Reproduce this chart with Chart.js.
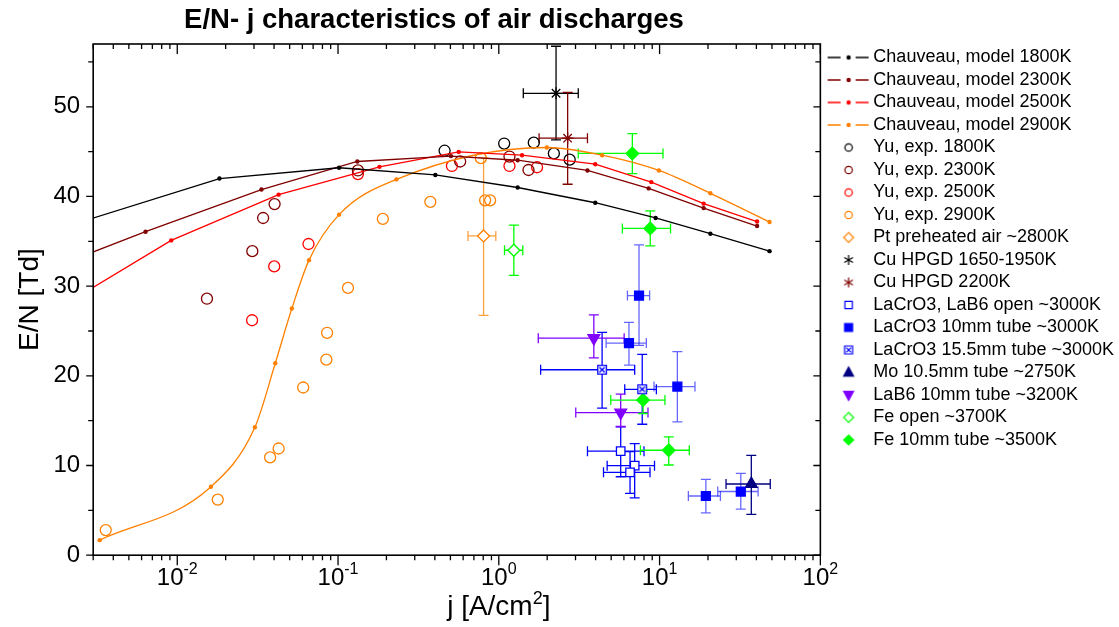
<!DOCTYPE html>
<html>
<head>
<meta charset="utf-8">
<script src="https://cdn.jsdelivr.net/npm/chart.js@4"></script>
<style>
  html, body { margin: 0; padding: 0; background: #fff; }
</style>
</head>
<body>
<canvas id="chart" width="1119" height="627"></canvas>
<script>
// Chauveau model curves (j in A/cm2, E/N in Td)
const model1800J  = [0.002, 0.0183, 0.1015, 0.403, 1.31, 3.98, 9.45, 20.7, 48.3];
const model1800EN = [36.6, 42.0, 43.2, 42.4, 41.0, 39.3, 37.6, 35.85, 33.9];
const model2300J  = [0.002, 0.00635, 0.0334, 0.1318, 0.504, 1.31, 3.56, 8.55, 18.8, 40.4];
const model2300EN = [32.6, 36.07, 40.77, 43.9, 44.5, 44.04, 42.9, 40.9, 38.7, 36.7];
const model2500J  = [0.002, 0.00917, 0.0427, 0.181, 0.563, 1.395, 3.98, 8.88, 18.8, 40.4];
const model2500EN = [27.96, 35.1, 40.2, 43.3, 44.97, 44.6, 43.6, 41.6, 39.2, 37.2];
const model2900J  = [0.00329, 0.0162, 0.0304, 0.0407, 0.0516, 0.066, 0.1015, 0.2308, 1.99, 4.39, 9.9, 20.7, 48.3];
const model2900EN = [1.68, 7.63, 14.27, 21.4, 27.5, 32.9, 37.97, 41.9, 45.46, 44.6, 42.9, 40.35, 37.15];

// Yu experiments
const yu1800J  = [0.46, 1.08, 1.65, 2.2, 2.76];
const yu1800EN = [45.1, 45.9, 46.0, 44.8, 44.1];
const yu2300J  = [0.0153, 0.0293, 0.0342, 0.0403, 0.133, 0.575, 1.165, 1.53];
const yu2300EN = [28.6, 33.9, 37.6, 39.15, 42.9, 43.9, 44.45, 42.95];
const yu2500J  = [0.0292, 0.0401, 0.0655, 0.133, 0.511, 1.165, 1.73];
const yu2500EN = [26.2, 32.2, 34.7, 42.5, 43.4, 43.4, 43.26];
const yu2900J  = [0.00359, 0.01786, 0.0378, 0.0427, 0.0607, 0.0846, 0.0855, 0.1153, 0.19, 0.375, 0.773, 0.822, 0.883];
const yu2900EN = [2.8, 6.2, 10.9, 11.9, 18.7, 21.8, 24.8, 29.8, 37.5, 39.4, 44.27, 39.57, 39.57];

// measurements with error bars: [low, high]
const ptJ = [0.804], ptEN = [35.6];
const ptJErr = [[0.643, 0.958]], ptENErr = [[26.75, 44.3]];
const cu1800J = [2.27], cu1800EN = [51.5];
const cu1800JErr = [[1.42, 3.12]], cu1800ENErr = [[46.3, 56.75]];
const cu2200J = [2.68], cu2200EN = [46.5];
const cu2200JErr = [[1.78, 3.56]], cu2200ENErr = [[41.36, 51.6]];
const lacroOpenJ = [5.73, 7.0, 6.55], lacroOpenEN = [11.6, 9.98, 9.24];
const lacroOpenJErr = [[3.56, 8.0], [4.72, 9.3], [4.48, 8.72]];
const lacroOpenENErr = [[8.75, 14.3], [6.4, 12.44], [6.9, 11.55]];
const lacro10J = [7.45, 6.45, 12.9, 19.4, 32.0], lacro10EN = [28.95, 23.65, 18.8, 6.6, 7.1];
const lacro10JErr = [[6.31, 8.67], [4.65, 8.27], [9.23, 16.6], [15.1, 23.9], [23, 41]];
const lacro10ENErr = [[23.4, 34.6], [21.2, 25.96], [14.87, 22.7], [4.73, 8.46], [5.14, 9.13]];
const lacro155J = [4.39, 7.8], lacro155EN = [20.68, 18.5];
const lacro155JErr = [[1.82, 7.0], [6.07, 9.55]], lacro155ENErr = [[16.4, 24.85], [14.6, 22.4]];
const moJ = [37.2], moEN = [7.94];
const moJErr = [[25.9, 48.8]], moENErr = [[4.55, 11.14]];
const lab6J = [3.9, 5.73], lab6EN = [24.2, 15.9];
const lab6JErr = [[1.76, 6.02], [3.01, 8.47]], lab6ENErr = [[22.0, 26.8], [14.35, 17.96]];
const feOpenJ = [1.24], feOpenEN = [34.0];
const feOpenJErr = [[1.085, 1.41]], feOpenENErr = [[31.2, 36.8]];
const fe10J = [6.77, 8.75, 7.89, 11.4], fe10EN = [44.8, 36.44, 17.3, 11.7];
const fe10JErr = [[3.12, 10.5], [5.87, 11.7], [4.97, 10.8], [7.6, 15.3]];
const fe10ENErr = [[42.55, 47.0], [34.5, 38.4], [15.8, 18.3], [10.06, 13.2]];

// axis ticks
const yTickValues = [0, 5, 10, 15, 20, 25, 30, 35, 40, 45, 50, 55];
const xDecades = [-3, -2, -1, 0, 1, 2];
const xLabelDecades = [-2, -1, 0, 1, 2];

const FONT = '"Liberation Sans", Arial, Helvetica, sans-serif';
Chart.defaults.font.family = FONT;
Chart.defaults.color = '#000';

const BLACK = '#000000', DKRED = '#800000', RED = '#ff0000', ORANGE = '#ff8000';
const BLUE = '#0000ff', NAVY = '#000080', PURPLE = '#8000ff', GREEN = '#00ff00';

const pts = (xs, ys) => xs.map((x, i) => ({ x: x, y: ys[i] }));
const isDecade = v => Math.abs(Math.log10(v) - Math.round(Math.log10(v))) < 1e-9;

function drawMarker(g, kind, x, y, r, stroke, fill, lw) {
  g.save();
  g.strokeStyle = stroke;
  g.fillStyle = fill;
  g.lineWidth = lw || 1.2;
  g.beginPath();
  if (kind === 'circle') {
    g.arc(x, y, r, 0, Math.PI * 2);
  } else if (kind === 'diamond') {
    g.moveTo(x, y - r); g.lineTo(x + r, y); g.lineTo(x, y + r); g.lineTo(x - r, y); g.closePath();
  } else if (kind === 'square' || kind === 'boxx') {
    g.rect(x - r, y - r, 2 * r, 2 * r);
  } else if (kind === 'up') {
    g.moveTo(x, y - r); g.lineTo(x + r * 0.9, y + r * 0.65); g.lineTo(x - r * 0.9, y + r * 0.65); g.closePath();
  } else if (kind === 'down') {
    g.moveTo(x, y + r); g.lineTo(x + r * 0.9, y - r * 0.65); g.lineTo(x - r * 0.9, y - r * 0.65); g.closePath();
  }
  if (kind !== 'star') { g.fill(); g.stroke(); }
  if (kind === 'boxx') {
    g.beginPath();
    g.moveTo(x - r * 0.6, y - r * 0.6); g.lineTo(x + r * 0.6, y + r * 0.6);
    g.moveTo(x + r * 0.6, y - r * 0.6); g.lineTo(x - r * 0.6, y + r * 0.6);
    g.stroke();
  }
  if (kind === 'star') {
    g.beginPath();
    g.moveTo(x, y - r); g.lineTo(x, y + r);
    g.moveTo(x - r * 0.87, y - r * 0.5); g.lineTo(x + r * 0.87, y + r * 0.5);
    g.moveTo(x + r * 0.87, y - r * 0.5); g.lineTo(x - r * 0.87, y + r * 0.5);
    g.stroke();
  }
  g.restore();
}

function makeCanvas(w, h, fn) {
  const c = document.createElement('canvas');
  c.width = w; c.height = h;
  fn(c.getContext('2d'));
  return c;
}

// legend icons, marker centred at x=29 of a 50px wide image
function lineIcon(color) {
  return makeCanvas(50, 16, g => {
    g.strokeStyle = color; g.lineWidth = 1.3;
    g.beginPath();
    g.moveTo(8, 8); g.lineTo(21, 8);
    g.moveTo(36, 8); g.lineTo(49, 8);
    g.stroke();
    g.fillStyle = color;
    g.beginPath(); g.arc(29, 8, 2.2, 0, Math.PI * 2); g.fill();
  });
}
function markerIcon(kind, r, stroke, fill) {
  return makeCanvas(50, 16, g => drawMarker(g, kind, 29, 8, r, stroke, fill));
}

const boxXImage = makeCanvas(12, 12, g => drawMarker(g, 'boxx', 6, 6, 4.3, BLUE, '#fff', 1.3));

function model(label, xs, ys, color, extra) {
  return Object.assign({
    label: label, data: pts(xs, ys), showLine: true,
    borderColor: color, backgroundColor: color, borderWidth: 1.3,
    pointRadius: 2.2, pointBorderWidth: 0, pointBackgroundColor: color,
    icon: lineIcon(color)
  }, extra || {});
}
function scatter(label, xs, ys, color, style, radius, fill, icon, jErr, enErr, extra) {
  return Object.assign({
    label: label, data: pts(xs, ys), showLine: false,
    pointStyle: style, pointRadius: radius, pointBorderWidth: 1.3,
    borderColor: color, pointBorderColor: color, pointBackgroundColor: fill,
    backgroundColor: fill, icon: icon, jErr: jErr, enErr: enErr
  }, extra || {});
}

const datasets = [
  model('Chauveau, model 1800K', model1800J, model1800EN, BLACK),
  model('Chauveau, model 2300K', model2300J, model2300EN, DKRED),
  model('Chauveau, model 2500K', model2500J, model2500EN, RED),
  model('Chauveau, model 2900K', model2900J, model2900EN, ORANGE, { cubicInterpolationMode: 'monotone' }),
  scatter('Yu, exp. 1800K', yu1800J, yu1800EN, BLACK, 'circle', 5.5, 'rgba(0,0,0,0)', markerIcon('circle', 3.7, BLACK, 'rgba(0,0,0,0)')),
  scatter('Yu, exp. 2300K', yu2300J, yu2300EN, DKRED, 'circle', 5.5, 'rgba(0,0,0,0)', markerIcon('circle', 3.7, DKRED, 'rgba(0,0,0,0)')),
  scatter('Yu, exp. 2500K', yu2500J, yu2500EN, RED, 'circle', 5.5, 'rgba(0,0,0,0)', markerIcon('circle', 3.7, RED, 'rgba(0,0,0,0)')),
  scatter('Yu, exp. 2900K', yu2900J, yu2900EN, ORANGE, 'circle', 5.5, 'rgba(0,0,0,0)', markerIcon('circle', 3.7, ORANGE, 'rgba(0,0,0,0)')),
  scatter('Pt preheated air ~2800K', ptJ, ptEN, ORANGE, 'rectRot', 6, '#fff', markerIcon('diamond', 5, ORANGE, '#fff'), ptJErr, ptENErr, { errColor: '#ffa040' }),
  scatter('Cu HPGD 1650-1950K', cu1800J, cu1800EN, BLACK, 'star', 6, BLACK, markerIcon('star', 5, BLACK, BLACK), cu1800JErr, cu1800ENErr),
  scatter('Cu HPGD 2200K', cu2200J, cu2200EN, DKRED, 'star', 6, DKRED, markerIcon('star', 5, DKRED, DKRED), cu2200JErr, cu2200ENErr),
  scatter('LaCrO3, LaB6 open ~3000K', lacroOpenJ, lacroOpenEN, BLUE, 'rect', 6, '#fff', markerIcon('square', 3.7, BLUE, '#fff'), lacroOpenJErr, lacroOpenENErr),
  scatter('LaCrO3 10mm tube ~3000K', lacro10J, lacro10EN, BLUE, 'rect', 6.3, BLUE, markerIcon('square', 4, BLUE, BLUE), lacro10JErr, lacro10ENErr, { errColor: 'rgba(0,0,255,0.6)' }),
  scatter('LaCrO3 15.5mm tube ~3000K', lacro155J, lacro155EN, BLUE, boxXImage, 6, '#fff', markerIcon('boxx', 4, BLUE, '#fff'), lacro155JErr, lacro155ENErr),
  scatter('Mo 10.5mm tube ~2750K', moJ, moEN, NAVY, 'triangle', 6.8, NAVY, markerIcon('up', 5.5, NAVY, NAVY), moJErr, moENErr),
  scatter('LaB6 10mm tube ~3200K', lab6J, lab6EN, PURPLE, 'triangle', 6.8, PURPLE, markerIcon('down', 5.5, PURPLE, PURPLE), lab6JErr, lab6ENErr, { pointRotation: 180 }),
  scatter('Fe open ~3700K', feOpenJ, feOpenEN, GREEN, 'rectRot', 6, '#fff', markerIcon('diamond', 5, GREEN, '#fff'), feOpenJErr, feOpenENErr),
  scatter('Fe 10mm tube ~3500K', fe10J, fe10EN, GREEN, 'rectRot', 6.3, GREEN, markerIcon('diamond', 5, GREEN, GREEN), fe10JErr, fe10ENErr)
];

// error bars drawn under the markers, from the data through the scales
const errorBars = {
  id: 'errorBars',
  beforeDatasetsDraw(chart) {
    const { ctx, chartArea: a, scales: { x, y } } = chart;
    ctx.save();
    ctx.beginPath();
    ctx.rect(a.left, a.top, a.width, a.height);
    ctx.clip();
    ctx.lineWidth = 1.3;
    chart.data.datasets.forEach(ds => {
      if (!ds.jErr) return;
      ctx.strokeStyle = ds.errColor || ds.borderColor;
      ds.data.forEach((p, i) => {
        const px = x.getPixelForValue(p.x), py = y.getPixelForValue(p.y);
        const xl = x.getPixelForValue(ds.jErr[i][0]), xr = x.getPixelForValue(ds.jErr[i][1]);
        const yb = y.getPixelForValue(ds.enErr[i][0]), yt = y.getPixelForValue(ds.enErr[i][1]);
        const c = 5;
        ctx.beginPath();
        ctx.moveTo(xl, py); ctx.lineTo(xr, py);
        ctx.moveTo(xl, py - c); ctx.lineTo(xl, py + c);
        ctx.moveTo(xr, py - c); ctx.lineTo(xr, py + c);
        ctx.moveTo(px, yb); ctx.lineTo(px, yt);
        ctx.moveTo(px - c, yb); ctx.lineTo(px + c, yb);
        ctx.moveTo(px - c, yt); ctx.lineTo(px + c, yt);
        ctx.stroke();
      });
    });
    ctx.restore();
  }
};

// text made of runs with font size and vertical shift, centred on cx
function drawRuns(ctx, runs, cx, baseY) {
  let total = 0;
  runs.forEach(r => { ctx.font = r.size + 'px ' + FONT; total += ctx.measureText(r.text).width; });
  let xPos = cx - total / 2;
  runs.forEach(r => {
    ctx.font = r.size + 'px ' + FONT;
    ctx.fillText(r.text, xPos, baseY - (r.rise || 0));
    xPos += ctx.measureText(r.text).width;
  });
}

// box frame with Origin-style ticks on all four sides, 10^n labels, x title and chart title
const frame = {
  id: 'frame',
  afterDraw(chart) {
    const { ctx, chartArea: a, scales: { x, y } } = chart;
    ctx.save();
    ctx.strokeStyle = '#000';
    ctx.lineWidth = 1.6;
    ctx.strokeRect(a.left, a.top, a.width, a.height);
    ctx.lineWidth = 1.3;
    ctx.beginPath();
    x.ticks.forEach(t => {
      const px = x.getPixelForValue(t.value);
      const len = isDecade(t.value) ? 10 : 5;
      ctx.moveTo(px, a.bottom); ctx.lineTo(px, a.bottom + len);
      ctx.moveTo(px, a.top); ctx.lineTo(px, a.top + len);
    });
    y.ticks.forEach(t => {
      const py = y.getPixelForValue(t.value);
      const len = t.value % 10 === 0 ? 7 : 5;
      ctx.moveTo(a.left, py); ctx.lineTo(a.left - len, py);
      ctx.moveTo(a.right, py); ctx.lineTo(a.right - len, py);
    });
    ctx.stroke();

    ctx.fillStyle = '#000';
    ctx.textAlign = 'left';
    ctx.textBaseline = 'alphabetic';
    xLabelDecades.forEach(d => {
      const px = x.getPixelForValue(Math.pow(10, d));
      drawRuns(ctx, [{ text: '10', size: 24 }, { text: String(d), size: 16, rise: 10.5 }], px, a.bottom + 29.5);
    });

    // x axis title, centred under 10^0 as in the original
    drawRuns(ctx, [
      { text: 'j [A/cm', size: 28 },
      { text: '2', size: 18, rise: 11 },
      { text: ']', size: 28 }
    ], x.getPixelForValue(1), 615);

    ctx.font = 'bold 27.5px ' + FONT;
    ctx.textAlign = 'center';
    ctx.fillText('E/N- j characteristics of air discharges', 434, 28);
    ctx.restore();
  }
};

new Chart(document.getElementById('chart'), {
  type: 'scatter',
  data: { datasets: datasets },
  options: {
    responsive: false,
    animation: false,
    layout: { padding: { top: 44, bottom: 7.5, left: 0, right: -5 } },
    plugins: {
      tooltip: { enabled: false },
      title: { display: false },
      legend: {
        position: 'right',
        align: 'start',
        maxWidth: 330,
        labels: {
          usePointStyle: true,
          pointStyleWidth: 39.5,
          padding: 4.5,
          color: '#000',
          font: { size: 18 },
          generateLabels: chart => chart.data.datasets.map((ds, i) => ({
            text: ds.label,
            pointStyle: ds.icon,
            datasetIndex: i,
            hidden: false,
            fillStyle: 'rgba(0,0,0,0)',
            strokeStyle: 'rgba(0,0,0,0)',
            lineWidth: 0,
            fontColor: '#000'
          }))
        }
      }
    },
    scales: {
      x: {
        type: 'logarithmic',
        min: 0.003,
        max: 100,
        grid: { display: false, drawTicks: false },
        border: { display: false },
        afterBuildTicks: scale => {
          const ticks = [];
          xDecades.forEach(d => {
            for (let m = 1; m <= 9; m++) {
              const v = m * Math.pow(10, d);
              if (v >= 0.003 && v <= 100) ticks.push({ value: v });
            }
          });
          scale.ticks = ticks;
        },
        ticks: {
          autoSkip: false,
          maxRotation: 0,
          padding: 6,
          font: { size: 24 },
          // space is reserved here, the labels with exponents are drawn by the frame plugin
          color: 'rgba(0,0,0,0)',
          callback: v => isDecade(v) && v >= 0.01 ? '10' : ''
        },
        title: {
          display: true,
          text: 'j [A/cm2]',
          font: { size: 28, lineHeight: 1 },
          color: 'rgba(0,0,0,0)',
          padding: { top: -4.5, bottom: 0 }
        }
      },
      y: {
        min: 0,
        max: 57,
        grid: { display: false, drawTicks: false },
        border: { display: false },
        afterBuildTicks: scale => { scale.ticks = yTickValues.map(v => ({ value: v })); },
        ticks: {
          padding: 13,
          font: { size: 24 },
          color: '#000',
          callback: v => v % 10 === 0 ? String(v) : ''
        },
        title: {
          display: true,
          text: 'E/N [Td]',
          font: { size: 28, lineHeight: 1 },
          color: '#000',
          padding: { top: 16, bottom: -3.5 }
        }
      }
    }
  },
  plugins: [errorBars, frame]
});
</script>
</body>
</html>
